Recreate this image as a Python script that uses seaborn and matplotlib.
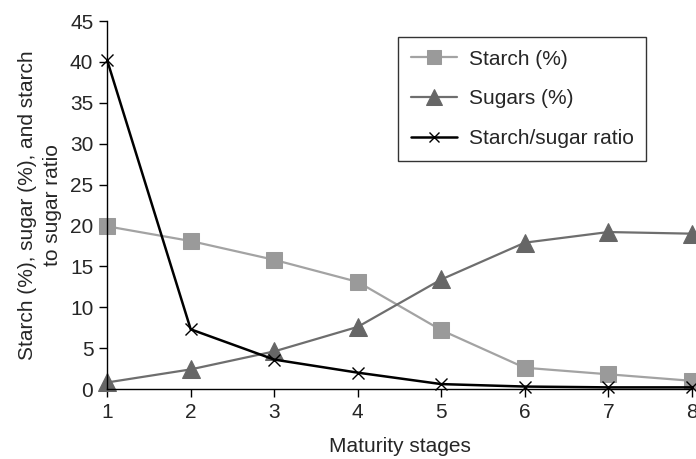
import pandas as pd
import seaborn as sns
import matplotlib.pyplot as plt

stages = [1, 2, 3, 4, 5, 6, 7, 8]
starch = [19.9, 18.1, 15.8, 13.1, 7.2, 2.6, 1.8, 1.0]
sugars = [0.8, 2.4, 4.6, 7.6, 13.4, 17.9, 19.2, 19.0]
ratio = [40.2, 7.3, 3.6, 2.0, 0.6, 0.3, 0.2, 0.2]

df = pd.DataFrame({"Stage": stages, "Starch (%)": starch,
                   "Sugars (%)": sugars, "Starch/sugar ratio": ratio})

sns.set_theme(style="ticks")
plt.rcParams['font.family'] = ['Liberation Sans', 'DejaVu Sans']

fig = plt.figure(figsize=(6.96, 4.59), dpi=100)
ax = fig.add_axes([0.154, 0.1525, 0.84, 0.8015])

styles = {
    "Starch (%)": dict(color="#a3a3a3", marker="s", markersize=12,
                       mfc="#9a9a9a", mec="#9a9a9a", lw=1.6),
    "Sugars (%)": dict(color="#6e6e6e", marker="^", markersize=13,
                       mfc="#666666", mec="#666666", lw=1.6),
    "Starch/sugar ratio": dict(color="black", marker="x", markersize=8,
                               mfc="black", mec="black", lw=1.8, mew=1.0),
}
for name, st in styles.items():
    sns.lineplot(data=df, x="Stage", y=name, ax=ax, label=name,
                 clip_on=False, **st)

ax.set_xlim(1, 8)
ax.set_ylim(0, 45)
ax.set_xticks(stages)
ax.set_yticks(range(0, 46, 5))
ax.tick_params(labelsize=15, length=6, width=1, color="black", pad=4)
ax.set_xlabel("Maturity stages", fontsize=15, labelpad=11)
ax.set_ylabel("Starch (%), sugar (%), and starch\nto sugar ratio", fontsize=15,
              linespacing=1.35, labelpad=6)
for s in ["top", "right"]:
    ax.spines[s].set_visible(False)
for s in ["left", "bottom"]:
    ax.spines[s].set_color("black")
    ax.spines[s].set_linewidth(1)

leg = ax.legend(loc="upper left", bbox_to_anchor=(0.48, 0.985), fontsize=15,
                frameon=True, fancybox=False, edgecolor="black",
                handlelength=2.2, handletextpad=0.6, borderpad=0.6,
                labelspacing=1.0, markerscale=0.85)
leg.get_frame().set_linewidth(1)

fig.savefig("out.png", dpi=100)
